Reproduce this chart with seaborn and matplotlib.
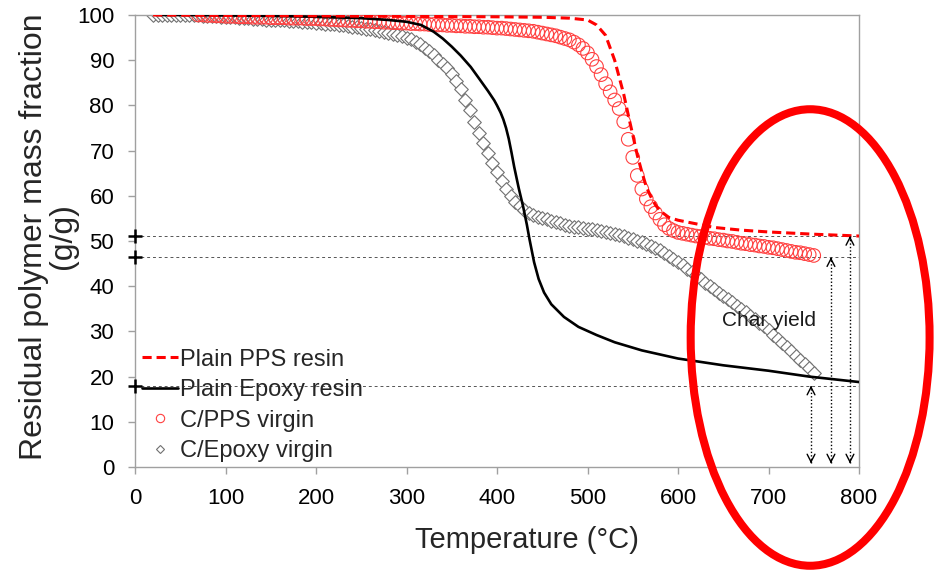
import numpy as np
import pandas as pd
import matplotlib
matplotlib.use("Agg")
import matplotlib.pyplot as plt
from matplotlib.lines import Line2D
from matplotlib.patches import Ellipse
import seaborn as sns

# ---------------- data ----------------
pps_resin_T = [20, 100, 200, 300, 400, 450, 480, 500, 510, 520, 530, 540, 546, 550, 555, 560,
               565, 570, 575, 580, 590, 600, 615, 640, 670, 700, 750, 800]
pps_resin_Y = [100.0, 99.9, 99.8, 99.7, 99.6, 99.5, 99.3, 98.9, 97.8, 95.5, 90.0, 82.5, 77.0, 73.5, 69.0, 65.3,
               62.0, 59.8, 58.0, 56.7, 55.2, 54.6, 54.0, 53.0, 52.4, 52.0, 51.5, 51.1]

epoxy_resin_T = [25, 55, 100, 150, 200, 250, 280, 300, 316, 330, 340, 350, 360, 371, 380, 390, 397, 400, 404,
                 407, 410, 413, 416, 419, 424, 429, 433, 436, 441, 446, 452, 460, 474, 490, 510, 530, 560,
                 600, 650, 700, 745, 800]
epoxy_resin_Y = [100.0, 100.0, 99.9, 99.8, 99.6, 99.3, 98.9, 98.5, 97.8, 96.3, 94.8, 93.0, 91.0, 88.5, 86.0, 83.2, 81.1, 80.0, 78.4,
                 76.9, 75.0, 72.6, 69.6, 66.4, 61.7, 57.5, 53.6, 50.3, 45.3, 41.6, 38.6, 36.0, 33.2, 31.0, 29.2, 27.6, 25.8,
                 24.0, 22.5, 21.3, 20.0, 18.8]

cpps_T = list(range(70, 751, 5))
cpps_Y = [100.0, 100.0, 99.9, 99.9, 99.8, 99.8, 99.7, 99.7, 99.7, 99.6, 99.6, 99.6, 99.5, 99.5, 99.5, 99.5,
          99.4, 99.4, 99.4, 99.4, 99.3, 99.3, 99.3, 99.3, 99.2, 99.2, 99.2, 99.1, 99.1, 99.0, 99.0, 98.9,
          98.9, 98.8, 98.8, 98.7, 98.7, 98.6, 98.6, 98.5, 98.5, 98.4, 98.4, 98.3, 98.3, 98.2, 98.2, 98.1,
          98.1, 98.0, 98.0, 97.9, 97.9, 97.8, 97.8, 97.7, 97.7, 97.6, 97.6, 97.5, 97.5, 97.4, 97.4, 97.3,
          97.3, 97.2, 97.1, 97.1, 97.0, 96.9, 96.8, 96.7, 96.6, 96.5, 96.4, 96.2, 96.0, 95.8, 95.6, 95.4,
          95.1, 94.8, 94.5, 94.0, 93.4, 92.6, 91.6, 90.2, 88.6, 86.8, 84.8, 83.0, 81.2, 79.3, 76.4, 72.5,
          68.5, 64.5, 61.5, 59.3, 57.6, 56.2, 54.8, 53.6, 52.8, 52.3, 51.9, 51.7, 51.5, 51.3, 51.1, 51.0,
          50.8, 50.6, 50.5, 50.3, 50.2, 50.0, 49.9, 49.7, 49.5, 49.4, 49.2, 49.1, 48.9, 48.8, 48.6, 48.5,
          48.3, 48.1, 47.9, 47.7, 47.5, 47.4, 47.2, 47.0, 46.8]

cepoxy_T = list(range(20, 751, 5))
cepoxy_Y = [100.0, 100.0, 100.0, 100.0, 100.0, 100.0, 100.0, 100.0,
            99.9, 99.9, 99.9, 99.8, 99.8, 99.7, 99.7, 99.6, 99.6, 99.5, 99.5, 99.4, 99.4, 99.3, 99.2, 99.2,
            99.1, 99.0, 99.0, 98.9, 98.8, 98.8, 98.7, 98.6, 98.6, 98.5, 98.4, 98.4, 98.3, 98.2, 98.1, 98.0,
            97.9, 97.8, 97.7, 97.5, 97.4, 97.3, 97.1, 97.0, 96.8, 96.6, 96.4, 96.2, 96.0, 95.8, 95.6, 95.3,
            95.0, 94.6, 94.1, 93.5, 92.8, 92.0, 91.1, 90.1, 89.2, 88.2, 87.0, 85.5, 83.6, 81.3, 78.9, 76.4,
            74.0, 71.6, 69.4, 67.3, 65.2, 63.3, 61.5, 60.0, 58.7, 57.7, 56.9, 56.3, 55.8, 55.4, 55.1, 54.8,
            54.5, 54.2, 53.9, 53.6, 53.4, 53.2, 53.0, 52.9, 52.7, 52.6, 52.4, 52.2, 52.0, 51.8, 51.6, 51.3,
            51.0, 50.7, 50.4, 50.1, 49.8, 49.4, 49.0, 48.5, 48.0, 47.4, 46.7, 46.0, 45.3, 44.6, 43.9, 43.2,
            42.4, 41.6, 40.8, 40.0, 39.3, 38.5, 37.8, 37.1, 36.4, 35.7, 35.0, 34.3, 33.5, 32.7, 31.9, 31.1,
            30.2, 29.3, 28.4, 27.4, 26.5, 25.6, 24.6, 23.7, 22.7, 21.8, 20.8]

series_labels = ["Plain PPS resin", "Plain Epoxy resin", "C/PPS virgin", "C/Epoxy virgin"]
char_levels = [51.1, 46.4, 18.0]          # char yield reference levels
arrow_T = [790, 769, 747]                 # char-yield arrows positions
x_ticks = list(range(0, 801, 100))
y_ticks = list(range(0, 101, 10))

# ---------------- style ----------------
sns.set_style("white")
plt.rcParams['font.family'] = ['Liberation Sans', 'DejaVu Sans']

fig = plt.figure(figsize=(9.36, 5.73), dpi=100)
ax = fig.add_axes([135/936, 1-467/573, 724/936, 452/573])

# reference levels
ax.hlines(char_levels, 0, 800, colors='#555555', linestyles=(0, (3, 3)), linewidth=0.7, zorder=1)

# markers
d_ep = pd.DataFrame({"T": cepoxy_T, "Y": cepoxy_Y})
sns.scatterplot(data=d_ep, x="T", y="Y", ax=ax, marker="D", s=48, legend=False, zorder=2)
c = ax.collections[-1]
c.set_facecolor('white'); c.set_edgecolor('#707070'); c.set_linewidth(0.8)

d_cp = pd.DataFrame({"T": cpps_T, "Y": cpps_Y})
sns.scatterplot(data=d_cp, x="T", y="Y", ax=ax, marker="o", s=95, legend=False, zorder=3)
c = ax.collections[-1]
c.set_facecolor('none'); c.set_edgecolor('#FF4040'); c.set_linewidth(0.8)

# lines
sns.lineplot(x=epoxy_resin_T, y=epoxy_resin_Y, ax=ax, color='black', linewidth=1.9, zorder=4)
sns.lineplot(x=pps_resin_T, y=pps_resin_Y, ax=ax, color='#FF0000', linewidth=2.2, zorder=5)
ax.lines[-1].set_linestyle((0, (3, 1.6)))

# plus markers on y axis
ax.plot([0]*len(char_levels), char_levels, ls='', marker='+', ms=10, mew=1.8,
        color='black', clip_on=False, zorder=6)

# arrows
for xv, top in zip(arrow_T, char_levels):
    ax.vlines(xv, 0.8, top, colors='black', linestyles=(0, (1, 1.5)), linewidth=1.0, zorder=6)
    ax.annotate('', xy=(xv, top), xytext=(xv, top - 0.6),
                arrowprops=dict(arrowstyle='->,head_length=0.55,head_width=0.28', lw=1.0, color='black'),
                zorder=6)
    ax.annotate('', xy=(xv, 0.8), xytext=(xv, 1.4),
                arrowprops=dict(arrowstyle='->,head_length=0.55,head_width=0.28', lw=1.0, color='black'),
                zorder=6)

ax.text(700, 32.5, "Char yield", fontsize=15, ha='center', va='center', color='#1a1a1a', zorder=7)

# axes
ax.set_xlim(0, 800)
ax.set_ylim(0, 100)
ax.set_xticks(x_ticks)
ax.set_yticks(y_ticks)
ax.tick_params(axis='both', labelsize=16, colors='#A0A0A0', labelcolor='black',
               direction='out', length=5, width=1, pad=10)
ax.tick_params(axis='x', bottom=True)
ax.tick_params(axis='y', left=True)
for s in ax.spines.values():
    s.set_color('#A0A0A0')
    s.set_linewidth(1.0)

ax.set_xlabel("Temperature (°C)", fontsize=21)
ax.set_ylabel("Residual polymer mass fraction\n(g/g)", fontsize=23, linespacing=0.95)
ax.xaxis.set_label_coords(0.541, -0.13)
ax.yaxis.set_label_coords(-0.079, 0.51)

# legend
handles = [
    Line2D([], [], color='#FF0000', lw=2.2, ls=(0, (3, 1.6))),
    Line2D([], [], color='black', lw=1.9),
    Line2D([], [], ls='', marker='o', ms=6, mfc='none', mec='#FF4040', mew=0.8),
    Line2D([], [], ls='', marker='D', ms=4.5, mfc='white', mec='#707070', mew=0.8),
]
leg = ax.legend(handles, series_labels, loc='upper left', bbox_to_anchor=(0.01, 0.262),
                frameon=False, fontsize=17, handlelength=1.5, handletextpad=0.1,
                labelspacing=0.36, borderpad=0, borderaxespad=0)
leg.set_zorder(8)

# highlight ellipse
ax.add_patch(Ellipse((746, 28.65), 264, 101, fill=False, edgecolor='#FF0000', linewidth=5.8,
                     clip_on=False, zorder=9))

fig.savefig("out.png", dpi=100)
